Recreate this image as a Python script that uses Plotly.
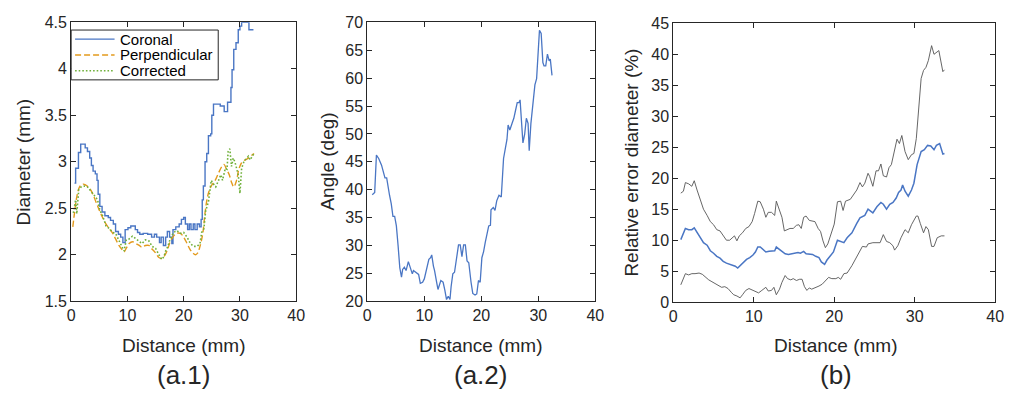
import plotly.graph_objects as go

W, H = 1016, 407

# ---------------- Panel (a.1): diameter ----------------
series_names = ["Coronal", "Perpendicular", "Corrected"]

coronal_x = [0.6, 0.8, 1.3, 1.7, 2.5, 2.9, 3.3, 3.6, 3.9, 4.3, 4.6, 4.8, 5.1, 5.5, 6.0, 6.6, 7.0, 7.5,
             7.9, 8.4, 8.8, 9.2, 9.6, 10.1, 10.6, 11.4, 11.8, 12.2, 12.8, 13.6, 14.3, 14.8, 15.2, 15.7,
             16.0, 16.4, 16.8, 17.1, 17.5, 17.9, 18.1, 18.6, 19.2, 19.6, 20.0, 20.3, 20.7, 21.0, 21.3,
             21.7, 22.0, 22.4, 22.8, 23.1, 23.3, 23.5, 23.8, 24.1, 24.4, 24.8, 25.0, 25.3, 26.5, 27.2,
             27.8, 28.4, 28.6, 28.9, 29.3, 29.7, 30.0, 30.3, 31.6, 32.4]
coronal_y = [2.77, 2.93, 3.10, 3.19, 3.15, 3.11, 3.04, 2.96, 2.90, 2.87, 2.80, 2.65, 2.52, 2.46, 2.42,
             2.40, 2.37, 2.33, 2.25, 2.22, 2.19, 2.13, 2.27, 2.29, 2.31, 2.27, 2.24, 2.22, 2.23, 2.22,
             2.19, 2.22, 2.19, 2.13, 2.19, 2.10, 2.19, 2.25, 2.19, 2.12, 2.27, 2.30, 2.33, 2.38, 2.40,
             2.33, 2.27, 2.33, 2.27, 2.33, 2.27, 2.33, 2.30, 2.38, 2.59, 2.74, 3.00, 3.09, 3.28, 3.30,
             3.50, 3.62, 3.60, 3.54, 3.64, 3.80, 3.99, 4.21, 4.28, 4.42, 4.46, 4.50, 4.42, 4.42]

perp_x = [0.3, 0.6, 1.0, 1.5, 2.1, 2.6, 3.2, 3.8, 4.4, 5.0, 5.6, 6.2, 6.8, 7.4, 7.9, 8.5, 9.1, 9.4,
          9.8, 10.3, 10.9, 11.5, 12.1, 12.6, 13.2, 13.8, 14.4, 15.0, 15.6, 16.1, 16.5, 17.1, 17.6,
          18.2, 18.8, 19.4, 20.0, 20.6, 21.2, 21.6, 22.1, 22.5, 22.9, 23.4, 23.8, 24.3, 24.9, 25.6,
          26.2, 26.8, 27.2, 27.6, 28.1, 28.5, 28.9, 29.4, 29.8, 30.3, 30.9, 31.5, 32.1, 32.5]
perp_y = [2.30, 2.45, 2.62, 2.73, 2.76, 2.75, 2.72, 2.66, 2.57, 2.48, 2.40, 2.33, 2.28, 2.23, 2.17,
          2.10, 2.05, 2.03, 2.07, 2.12, 2.14, 2.12, 2.10, 2.08, 2.10, 2.10, 2.06, 2.02, 1.97, 1.96,
          1.98, 2.05, 2.14, 2.20, 2.23, 2.23, 2.19, 2.12, 2.05, 2.02, 2.00, 2.02, 2.09, 2.23, 2.45,
          2.64, 2.74, 2.80, 2.88, 2.95, 2.97, 2.92, 2.86, 2.78, 2.73, 2.80, 2.92, 2.99, 3.02, 3.04,
          3.07, 3.09]

corr_x = [0.4, 0.8, 1.0, 1.35, 1.8, 2.4, 2.9, 3.5, 4.1, 4.7, 5.1, 5.6, 6.2, 6.8, 7.4, 7.9, 8.5, 9.1,
          9.4, 9.8, 10.3, 10.9, 11.5, 12.1, 12.6, 13.2, 13.8, 14.4, 15.0, 15.6, 16.1, 16.5, 16.8, 17.2,
          17.6, 18.2, 18.8, 19.4, 20.0, 20.6, 21.2, 21.8, 22.4, 22.9, 23.2, 23.6, 23.9, 24.4, 24.9,
          25.3, 25.7, 26.2, 26.6, 26.9, 27.4, 27.7, 27.9, 28.2, 28.5, 28.8, 29.1, 29.4, 29.7, 30.0,
          30.3, 30.7, 31.2, 31.5, 31.8, 32.2, 32.5]
corr_y = [2.45, 2.59, 2.44, 2.70, 2.73, 2.74, 2.73, 2.69, 2.64, 2.59, 2.48, 2.42, 2.31, 2.28, 2.24,
          2.23, 2.16, 2.09, 2.04, 2.16, 2.17, 2.20, 2.17, 2.14, 2.12, 2.16, 2.15, 2.09, 2.07, 2.00,
          1.95, 1.98, 2.04, 2.09, 2.17, 2.24, 2.26, 2.23, 2.24, 2.19, 2.12, 2.09, 2.09, 2.12, 2.24,
          2.28, 2.47, 2.57, 2.80, 2.76, 2.73, 2.80, 2.86, 2.80, 2.93, 2.92, 3.11, 3.14, 2.95, 3.04,
          3.00, 2.93, 2.86, 2.66, 2.93, 3.00, 3.04, 3.06, 3.02, 3.07, 3.09]

# ---------------- Panel (a.2): angle ----------------
angle_x = [0.87, 1.3, 1.6, 2.0, 2.5, 2.8, 3.1, 3.4, 3.6, 3.9, 4.2, 4.5, 4.8, 5.1, 5.4, 5.7, 6.0, 6.2,
           6.5, 6.8, 7.2, 7.6, 7.9, 8.1, 8.5, 9.0, 9.3, 9.7, 10.0, 10.4, 10.8, 11.1, 11.3, 11.6, 11.8,
           12.2, 12.4, 12.9, 13.3, 13.6, 13.9, 14.2, 14.5, 14.7, 15.0, 15.3, 15.7, 16.0, 16.3, 16.6,
           16.9, 17.2, 17.5, 17.8, 18.2, 18.5, 18.9, 19.2, 19.5, 19.8, 20.1, 20.4, 20.7, 21.0, 21.3,
           21.6, 21.7, 22.1, 22.4, 22.7, 23.1, 23.5, 23.9, 24.2, 24.5, 24.7, 25.0, 25.4, 25.7, 26.0,
           26.3, 26.6, 26.8, 27.0, 27.3, 27.6, 27.9, 28.2, 28.4, 28.7, 29.1, 29.4, 29.7, 29.9, 30.2,
           30.5, 30.8, 31.0, 31.3, 31.6, 31.9, 32.1, 32.4]
angle_y = [39.1, 39.5, 46.2, 45.6, 44.4, 43.3, 42.1, 42.1, 40.7, 39.0, 37.5, 35.2, 35.2, 33.5, 30.0,
           26.0, 24.3, 25.7, 26.1, 25.5, 27.1, 25.7, 24.9, 25.5, 25.2, 24.8, 23.2, 23.4, 24.0, 25.5,
           27.5, 27.8, 28.3, 26.3, 25.5, 23.2, 22.1, 23.7, 23.4, 22.0, 20.3, 20.9, 20.3, 22.6, 24.9,
           25.2, 27.8, 30.1, 30.1, 28.0, 30.1, 30.1, 27.2, 26.9, 23.4, 21.4, 21.1, 21.3, 23.7, 23.4,
           27.8, 28.9, 30.6, 31.8, 33.5, 33.6, 36.4, 36.8, 36.3, 38.0, 39.0, 38.7, 45.6, 47.3, 49.0,
           51.6, 50.7, 51.9, 52.8, 54.2, 55.6, 55.6, 56.1, 53.0, 48.4, 49.9, 52.8, 51.9, 47.0, 51.9,
           55.9, 58.8, 59.9, 64.0, 68.6, 68.0, 62.8, 62.2, 62.2, 64.3, 63.1, 63.4, 60.5]

# ---------------- Panel (b): relative error ----------------
err_mean_x = [0.93, 1.5, 1.9, 2.3, 2.6, 2.95, 3.35, 3.75, 4.2, 4.6, 5.0, 5.4, 5.8, 6.2, 6.6, 7.0, 7.4,
              7.7, 8.0, 8.3, 8.7, 9.1, 9.5, 9.9, 10.2, 10.5, 10.8, 11.2, 11.5, 11.9, 12.3, 12.6, 12.8,
              13.2, 13.5, 13.9, 14.3, 14.7, 15.1, 15.5, 15.8, 16.2, 16.5, 16.9, 17.3, 17.7, 18.1,
              18.4, 18.8, 19.1, 19.5, 19.9, 20.4, 20.8, 21.2, 21.6, 22.2, 22.8, 23.2, 23.8, 24.2,
              24.8, 25.3, 25.8, 26.1, 26.5, 26.9, 27.3, 27.7, 28.0, 28.3, 28.5, 28.8, 29.2, 29.6,
              29.9, 30.3, 30.8, 31.2, 31.6, 32.0, 32.4, 32.7, 33.1, 33.5, 33.7]
err_mean_y = [10.1, 11.9, 11.7, 11.7, 12.0, 11.2, 10.4, 9.6, 9.2, 8.3, 7.9, 7.4, 7.1, 6.6, 6.3, 6.1,
              6.0, 5.8, 5.5, 5.9, 6.5, 6.9, 7.2, 7.6, 8.1, 8.9, 8.9, 8.5, 8.1, 8.2, 8.2, 8.3, 8.9,
              8.5, 8.3, 7.8, 7.7, 7.8, 7.9, 8.0, 7.9, 8.2, 7.8, 7.7, 7.7, 7.4, 7.2, 6.5, 6.1, 6.8,
              7.4, 8.1, 10.0, 9.8, 9.6, 10.4, 11.2, 12.7, 13.6, 14.0, 15.0, 14.4, 15.4, 16.1, 15.8,
              15.0, 15.8, 16.1, 16.8, 17.7, 18.1, 18.9, 17.9, 17.1, 18.1, 19.2, 22.2, 24.3, 24.6,
              25.3, 25.2, 24.6, 25.3, 25.6, 23.9, 24.0]

err_hi_x = [0.93, 1.25, 1.5, 1.9, 2.3, 2.6, 2.95, 3.35, 3.75, 4.2, 4.6, 5.0, 5.4, 5.8, 6.2, 6.6, 7.0,
            7.4, 7.6, 7.9, 8.2, 8.6, 9.0, 9.4, 9.8, 10.1, 10.5, 10.8, 11.2, 11.5, 11.8, 12.2, 12.6,
            12.8, 13.2, 13.5, 13.8, 14.1, 14.5, 14.9, 15.3, 15.6, 15.9, 16.2, 16.5, 16.9, 17.3, 17.6,
            18.0, 18.3, 18.6, 18.9, 19.2, 19.6, 20.0, 20.4, 20.8, 21.1, 21.4, 22.0, 22.4, 22.8,
            23.2, 23.5, 23.8, 24.2, 24.4, 24.8, 25.2, 25.5, 25.8, 26.1, 26.5, 26.8, 27.1, 27.4,
            27.8, 28.1, 28.4, 28.8, 29.2, 29.6, 29.9, 30.2, 30.5, 30.8, 31.1, 31.4, 31.7, 32.1,
            32.4, 32.7, 33.0, 33.5, 33.7]
err_hi_y = [17.6, 17.9, 19.3, 19.1, 18.7, 19.6, 18.1, 16.6, 15.0, 14.0, 13.0, 12.5, 11.7, 11.5, 10.7,
            10.0, 10.0, 10.4, 10.7, 9.9, 10.7, 11.2, 11.9, 12.2, 13.0, 14.3, 16.3, 16.2, 15.0, 13.7,
            14.5, 14.5, 14.0, 16.3, 15.0, 13.7, 11.5, 11.7, 11.9, 11.9, 12.4, 12.5, 11.9, 13.7, 13.9,
            13.2, 13.1, 13.0, 11.9, 11.4, 9.9, 8.8, 9.4, 10.9, 12.6, 16.2, 16.3, 14.8, 16.3, 16.6,
            17.4, 18.1, 19.3, 18.6, 19.2, 20.8, 20.3, 18.7, 21.2, 21.2, 22.3, 20.4, 20.2, 21.7, 22.2,
            24.0, 26.3, 25.6, 26.9, 24.3, 23.0, 23.8, 24.0, 26.4, 32.0, 36.1, 37.4, 37.9, 39.0, 41.4,
            40.0, 40.3, 40.6, 37.2, 37.5]

err_lo_x = [0.93, 1.25, 1.5, 1.9, 2.3, 2.7, 3.2, 3.6, 4.0, 4.4, 4.8, 5.2, 5.6, 6.0, 6.4, 6.8, 7.2,
            7.5, 7.9, 8.3, 8.6, 9.0, 9.4, 9.8, 10.2, 10.6, 11.0, 11.5, 11.8, 12.2, 12.5, 12.8, 13.2,
            13.5, 13.9, 14.2, 14.6, 14.9, 15.3, 15.7, 16.0, 16.3, 16.6, 16.9, 17.2, 17.6, 18.1,
            18.5, 18.9, 19.3, 19.7, 20.2, 20.5, 20.8, 21.2, 21.6, 22.2, 22.8, 23.2, 23.5, 24.0,
            24.2, 24.8, 25.3, 25.7, 26.1, 26.5, 26.9, 27.3, 27.5, 27.9, 28.3, 28.8, 29.2, 29.6,
            30.2, 30.4, 30.7, 31.1, 31.4, 31.7, 32.1, 32.4, 32.8, 33.3, 33.7]
err_lo_y = [2.8, 3.7, 4.6, 4.4, 4.6, 4.6, 4.7, 4.5, 4.0, 3.6, 3.3, 3.0, 2.8, 2.4, 2.5, 2.2, 1.6, 1.2,
            1.0, 0.7, 1.2, 1.9, 2.2, 2.0, 1.8, 1.5, 1.9, 2.4, 1.8, 1.9, 2.4, 1.2, 2.1, 3.2, 4.3, 3.8,
            3.6, 3.8, 3.5, 3.7, 3.7, 2.5, 1.9, 2.3, 2.1, 2.3, 2.6, 2.9, 3.5, 4.0, 3.8, 3.8, 4.0, 3.7,
            4.6, 4.7, 5.9, 7.3, 8.3, 9.0, 8.9, 9.4, 9.6, 9.6, 9.6, 10.9, 9.8, 9.6, 9.1, 8.4, 9.1,
            10.4, 11.7, 11.2, 12.5, 13.9, 13.9, 12.7, 11.2, 12.2, 11.7, 9.0, 9.0, 10.4, 10.7, 10.7]

# ---------------- tick values ----------------
x_ticks = [0, 10, 20, 30, 40]
y1_ticks = [1.5, 2, 2.5, 3, 3.5, 4, 4.5]
y2_ticks = [20, 25, 30, 35, 40, 45, 50, 55, 60, 65, 70]
y3_ticks = [0, 5, 10, 15, 20, 25, 30, 35, 40, 45]

panel_labels = ["(a.1)", "(a.2)", "(b)"]
x_title = "Distance (mm)"
y_titles = ["Diameter (mm)", "Angle (deg)", "Relative error diameter (%)"]

# ---------------- styling ----------------
C_BLUE = "#4a76c4"
C_ORANGE = "#e39a1c"
C_GREEN = "#6fb03a"
C_GRAY = "#555555"
AX = "#262626"
FONT = "Arial, Liberation Sans, Helvetica, sans-serif"

# panel pixel boxes (left, right, top, bottom)
boxes = [(68, 296, 15, 306), (368, 599, 15, 306), (678, 1004, 16, 307)]


def px(x):
    return x / W


def py(y):
    return 1 - y / H


fig = go.Figure()

fig.add_trace(go.Scatter(x=coronal_x, y=coronal_y, mode="lines", name=series_names[0],
                         line=dict(color=C_BLUE, width=1.4, shape="hv"),
                         xaxis="x", yaxis="y", showlegend=False))
fig.add_trace(go.Scatter(x=perp_x, y=perp_y, mode="lines", name=series_names[1],
                         line=dict(color=C_ORANGE, width=1.4, dash="6px,3px", shape="spline"),
                         xaxis="x", yaxis="y", showlegend=False))
fig.add_trace(go.Scatter(x=corr_x, y=corr_y, mode="lines", name=series_names[2],
                         line=dict(color=C_GREEN, width=1.6, dash="1.6px,2px"),
                         xaxis="x", yaxis="y", showlegend=False))

fig.add_trace(go.Scatter(x=angle_x, y=angle_y, mode="lines", name="Angle",
                         line=dict(color=C_BLUE, width=1.3),
                         xaxis="x2", yaxis="y2", showlegend=False))

fig.add_trace(go.Scatter(x=err_hi_x, y=err_hi_y, mode="lines", name="Upper",
                         line=dict(color=C_GRAY, width=0.9),
                         xaxis="x3", yaxis="y3", showlegend=False))
fig.add_trace(go.Scatter(x=err_lo_x, y=err_lo_y, mode="lines", name="Lower",
                         line=dict(color=C_GRAY, width=0.9),
                         xaxis="x3", yaxis="y3", showlegend=False))
fig.add_trace(go.Scatter(x=err_mean_x, y=err_mean_y, mode="lines", name="Mean",
                         line=dict(color=C_BLUE, width=1.5),
                         xaxis="x3", yaxis="y3", showlegend=False))

common = dict(showgrid=False, zeroline=False, ticks="inside", ticklen=5, tickwidth=1,
              tickcolor=AX, showline=True, linecolor=AX, linewidth=1, mirror="allticks",
              tickfont=dict(family=FONT, size=16, color=AX))

yranges = [[1.5, 4.5], [20, 70], [0, 45]]
ytickss = [y1_ticks, y2_ticks, y3_ticks]
layout = {}
for i, (l, r, t, b) in enumerate(boxes):
    sx = "" if i == 0 else str(i + 1)
    layout["xaxis" + sx] = dict(common, domain=[px(l), px(r)], range=[0, 40], tickvals=x_ticks,
                                anchor="y" + sx)
    layout["yaxis" + sx] = dict(common, domain=[py(b), py(t)], range=yranges[i],
                                tickvals=ytickss[i], anchor="x" + sx)

fig.update_layout(**layout)

annotations = []
title_x_pos = [182, 483, 843]
ytitle_x_pos = [20, 328, 636]
for i, (l, r, t, b) in enumerate(boxes):
    annotations.append(dict(text=x_title, x=px(title_x_pos[i]), y=py(352), xref="paper", yref="paper",
                            showarrow=False, xanchor="center", yanchor="middle",
                            font=dict(family=FONT, size=19, color=AX)))
    annotations.append(dict(text=panel_labels[i], x=px(title_x_pos[i]), y=py(383), xref="paper",
                            yref="paper", showarrow=False, xanchor="center", yanchor="middle",
                            font=dict(family=FONT, size=26, color=AX)))
    annotations.append(dict(text=y_titles[i], x=px(ytitle_x_pos[i]), y=py((t + b) / 2), xref="paper",
                            yref="paper", showarrow=False, xanchor="center", yanchor="middle",
                            textangle=-90, font=dict(family=FONT, size=19, color=AX)))

# manual legend (compact, like the original figure)
shapes = [dict(type="rect", xref="paper", yref="paper", x0=px(68), x1=px(217), y0=py(75), y1=py(23),
               line=dict(color=AX, width=1), fillcolor="white", layer="above")]
leg_rows = [32.5, 49, 65.5]
leg_styles = [dict(color=C_BLUE, width=1.4), dict(color=C_ORANGE, width=1.4, dash="6px,3px"),
              dict(color=C_GREEN, width=1.6, dash="1.6px,2px")]
for name, row, st in zip(series_names, leg_rows, leg_styles):
    shapes.append(dict(type="line", xref="paper", yref="paper", x0=px(72), x1=px(112), y0=py(row),
                       y1=py(row), line=st, layer="above"))
    annotations.append(dict(text=name, x=px(116), y=py(row), xref="paper", yref="paper",
                            showarrow=False, xanchor="left", yanchor="middle", borderpad=0,
                            font=dict(family=FONT, size=15, color="black")))

fig.update_layout(width=W, height=H, margin=dict(l=0, r=0, t=0, b=0),
                  paper_bgcolor="white", plot_bgcolor="white",
                  annotations=annotations, shapes=shapes, showlegend=False)

fig.write_html("out.html",
               config={"displayModeBar": False},
               post_script="document.body.style.margin='0px';document.body.style.overflow='hidden';")
